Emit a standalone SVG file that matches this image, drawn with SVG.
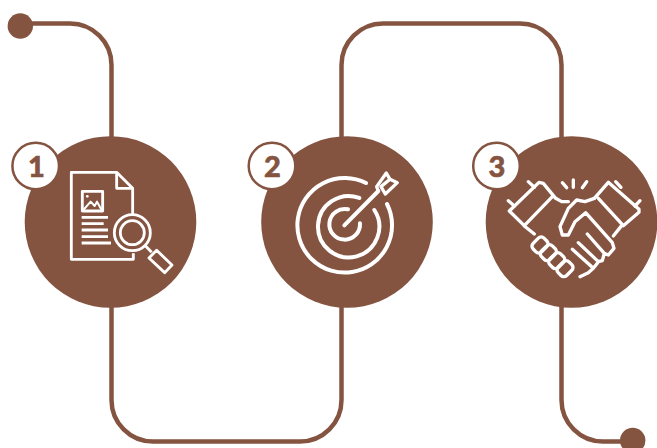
<svg xmlns="http://www.w3.org/2000/svg" width="657" height="448" viewBox="0 0 657 448">
<style>
.line{fill:none;stroke:#845441;stroke-width:4.5}
.disc,.dot{fill:#845441}
.badge{fill:#fff;stroke:#845441;stroke-width:2.5}
.num{font-family:"Lato","Liberation Sans",sans-serif;font-weight:900;font-size:29px;fill:#845441;stroke:#845441;stroke-width:.6;text-anchor:middle}
.ic{fill:none;stroke:#fff;stroke-width:8.5;stroke-linejoin:round}
.rc{stroke-linecap:round}
.t{stroke-width:12}
.h{stroke-width:10}
</style>
<rect width="657" height="448" fill="#fff"/>
<g id="connectors">
<path class="line" d="M20 23.5H70A41.5 41.5 0 0 1 111.5 65V400A41.5 41.5 0 0 0 153 441.5H300A41.5 41.5 0 0 0 341.5 400V65A41.5 41.5 0 0 1 383 23.5H520A41.5 41.5 0 0 1 561.5 65V400A41.5 41.5 0 0 0 603 441.5H633"/>
<circle class="dot" cx="20.3" cy="26" r="12.7"/>
<circle class="dot" cx="632.7" cy="440.5" r="12.7"/>
</g>
<g id="node1">
<circle class="disc" cx="110.5" cy="222" r="85.8"/>
<g class="ic" transform="translate(0 130) scale(.3333)">
<path d="M398 252V175L350 127H214V388H400V370"/>
<path d="M350 127V175H398"/>
<rect x="247" y="184" width="61" height="59"/>
<path d="M250 240L272 215L284 228L291 215L305 240" stroke-width="6"/>
<circle cx="262" cy="199" r="4" fill="#fff" stroke="none"/>
<path d="M245 262H324M245 281H311M245 300H324M245 320H324M245 339H333"/>
<circle cx="397" cy="308" r="54"/>
<circle cx="397" cy="308" r="36"/>
<path d="M436 347L455 367"/>
<path d="M470 361L516 405L494 428L447 384Z"/>
</g>
<circle class="badge" cx="35.7" cy="166" r="23.3"/>
<text class="num" x="36.5" y="176.5">1</text>
</g>
<g id="node2">
<circle class="disc" cx="347" cy="222" r="85.8"/>
<g class="ic rc t" transform="translate(240 130) scale(.3333)">
<path d="M378 159A142 142 0 1 0 441 222"/>
<path d="M358 204A92 92 0 1 0 403 240"/>
<path d="M324 238A46 46 0 1 0 360 280"/>
<path d="M313 286L415 183"/>
<path stroke-width="10" d="M415 183L410 170L439 129L450 148L472 158L436 192L423 170L450 148"/>
</g>
<circle class="badge" cx="272" cy="166" r="23.3"/>
<text class="num" x="272.5" y="176.5">2</text>
</g>
<g id="node3">
<circle class="disc" cx="571.5" cy="222" r="85.8"/>
<g class="ic rc h" transform="translate(465 130) scale(.3333)">
<path d="M190 155L208 172M130 212L148 228"/>
<path d="M133 243L222 157L235 160L272 205L290 215L310 215M133 243L178 287L265 197"/>
<path d="M178 288L208 312"/>
<path d="M292 158L305 173M325 150V172M365 155L352 173"/>
<path d="M388 205L360 215L335 210L310 235L285 290L292 315L310 315L330 275L362 248L442 338L447 355L430 375L418 370L367 312M418 370L412 392L400 395L340 338M400 396L385 415L372 403L322 358M385 415L370 428L345 440"/>
<path d="M525 212L510 228M452 155L468 172"/>
<path d="M388 205L430 157L522 238V247L475 287L400 205"/>
<path d="M470 287L445 318"/>
<rect x="207" y="322" width="36" height="46" rx="12" transform="rotate(45 225 345)"/>
<rect x="232" y="345" width="36" height="46" rx="12" transform="rotate(45 250 368)"/>
<rect x="257" y="369" width="36" height="46" rx="12" transform="rotate(45 275 392)"/>
<rect x="282" y="393" width="36" height="46" rx="12" transform="rotate(45 300 416)"/>
</g>
<circle class="badge" cx="496.5" cy="166" r="23.3"/>
<text class="num" x="497" y="176.5">3</text>
</g>
</svg>
